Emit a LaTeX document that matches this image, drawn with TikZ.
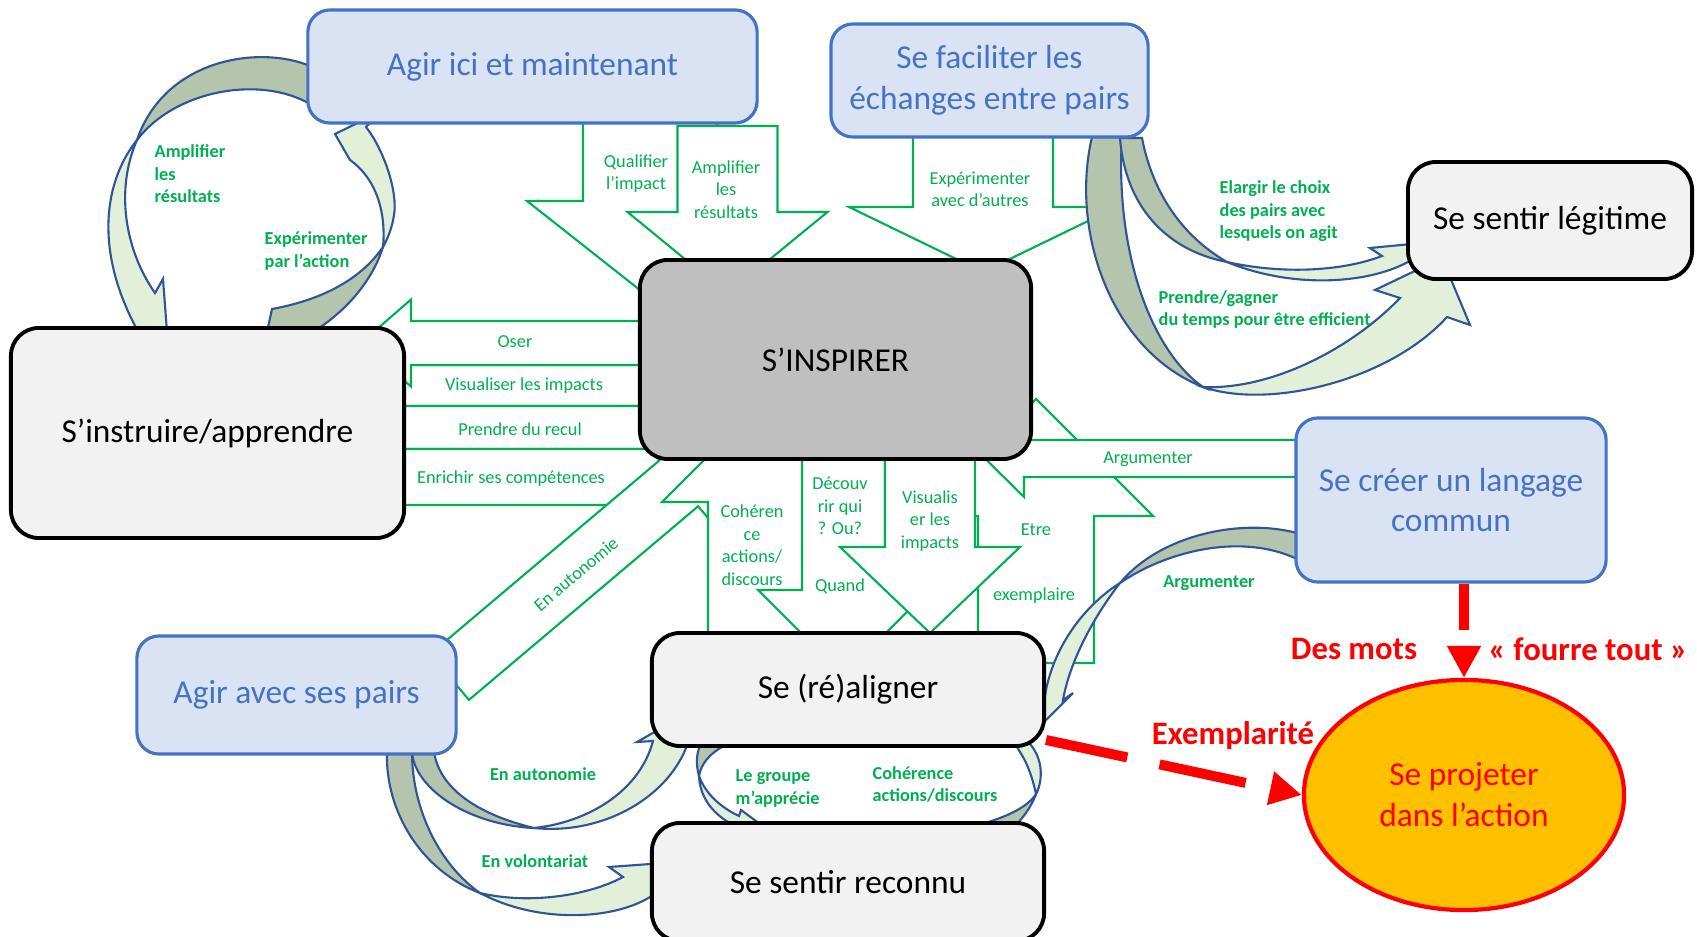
\documentclass[tikz,border=0pt]{standalone}
\usepackage{fontspec}
\setmainfont{Carlito}
\usepackage{tikz}
\usepackage{xcolor}
\usetikzlibrary{arrows.meta,shapes.geometric}
\definecolor{lightblue}{HTML}{DAE3F3}
\definecolor{boxblue}{HTML}{4472C4}
\definecolor{boxgray}{HTML}{F2F2F2}
\definecolor{inspiregray}{HTML}{BFBFBF}
\definecolor{arrowgreen}{HTML}{00B050}
\definecolor{ribbondark}{HTML}{B5C4AD}
\definecolor{ribbonlight}{HTML}{E2F0D9}
\definecolor{ribbonline}{HTML}{2F5597}
\definecolor{projorange}{HTML}{FFC000}
\newcommand{\boxfont}{\fontsize{9.5}{11.6}\selectfont}
\newcommand{\lblfont}{\fontsize{5.2}{6.4}\selectfont}
\newcommand{\redfont}{\fontsize{9.3}{11}\selectfont\bfseries}
% block arrow, vertical: x, y tail, half shaft, y head base, half head, y tip
\newcommand{\vertarrow}[6]{
    \filldraw[greenarrow] (#1-#3,#2) -- (#1-#3,#4) -- (#1-#5,#4) -- (#1,#6) -- (#1+#5,#4) -- (#1+#3,#4) -- (#1+#3,#2) -- cycle;
}
% block arrow, horizontal: y, x tail, half shaft, x head base, half head, x tip
\newcommand{\horizarrow}[6]{
    \filldraw[greenarrow] (#2,#1-#3) -- (#4,#1-#3) -- (#4,#1-#5) -- (#6,#1) -- (#4,#1+#5) -- (#4,#1+#3) -- (#2,#1+#3) -- cycle;
}
\tikzset{
    blackbox/.style={draw=black, line width=1.1pt, fill=boxgray, rounded corners=2.8mm, align=center, font=\boxfont, inner sep=0pt},
    bluebox/.style={draw=boxblue, line width=0.9pt, fill=lightblue, text=boxblue, rounded corners=2.2mm, align=center, font=\boxfont, inner sep=0pt},
    greenarrow/.style={draw=arrowgreen, fill=white, line width=0.6pt},
    ribbonback/.style={draw=ribbonline, fill=ribbondark, line width=0.6pt},
    ribbonfront/.style={draw=ribbonline, fill=ribbonlight, line width=0.6pt},
    lbl/.style={text=arrowgreen, font=\lblfont, inner sep=0pt, align=center},
    blbl/.style={text=arrowgreen, font=\lblfont\bfseries, inner sep=0pt, align=left, anchor=west},
    redtext/.style={text=red, font=\redfont, inner sep=0pt},
    reddash/.style={draw=red, line width=1mm, -{Triangle[length=3.2mm,width=3.2mm]}},
}

\begin{document}
\begin{tikzpicture}[x=0.01cm,y=-0.01cm]
\useasboundingbox (0,0) rectangle (1697,937);

% green block arrows
\foreach \cx/\ty/\sh/\hb/\hh/\tp in {
    650/100/67/201/123/298,
    727.5/126/50/212/100/294,
    983/120/70/207/134/272
}{
    \vertarrow{\cx}{\ty}{\sh}{\hb}{\hh}{\tp}
}
\foreach \cy/\tx/\sh/\hb/\hh/\tp in {
    385.5/700/20.5/411/43/361,
    343/700/22/411/43.5/361,
    427.5/700/21.5/395/40/355,
    477/680/28/395/45/350
}{
    \horizarrow{\cy}{\tx}{\sh}{\hb}{\hh}{\tp}
}
\begin{scope}[shift={(449.6,677)},rotate=40.2]
    \horizarrow{0}{0}{30}{300}{55}{360}
\end{scope}
\foreach \cx/\ty/\sh/\hb/\hh/\tp in {
    759/650/51/502/97/405,
    843.5/440/41.5/590/85.5/675,
    1036/663/58/516/117/399,
    930/440/45/547/90/633
}{
    \vertarrow{\cx}{\ty}{\sh}{\hb}{\hh}{\tp}
}
\horizarrow{458.5}{1310}{18.5}{1024}{38.5}{985}

% curved arrows
\filldraw[ribbonback] (310,66) .. controls (260,45) and (165,58) .. (137,140) .. controls (175,90) and (260,75) .. (310,104) -- cycle;
\filldraw[ribbonfront] (137,140) .. controls (105,180) and (92,250) .. (140,335) -- (168,345) -- (163,279) -- (155,293) .. controls (125,250) and (115,190) .. (137,140) -- cycle;
\filldraw[ribbonback] (267,332) -- (272,309) .. controls (305,303) and (355,288) .. (383,247) .. controls (372,282) and (345,312) .. (313,332) -- cycle;
\filldraw[ribbonfront] (383,247) .. controls (386,215) and (378,180) .. (350,160) -- (335,134) -- (380,112) -- (366,127) .. controls (384,150) and (398,192) .. (394,215) .. controls (392,228) and (388,238) .. (383,247) -- cycle;
\filldraw[ribbonback] (1092,137) .. controls (1070,230) and (1110,350) .. (1203,387) .. controls (1150,350) and (1115,250) .. (1122,137) -- cycle;
\filldraw[ribbonfront] (1203,387) .. controls (1270,410) and (1390,380) .. (1447,317) -- (1470,325) -- (1442,258) -- (1375,290) -- (1400,298) .. controls (1350,350) and (1270,390) .. (1203,387) -- cycle;
\filldraw[ribbonback] (1120,138) .. controls (1125,205) and (1165,250) .. (1227,262) .. controls (1180,235) and (1152,190) .. (1142,138) -- cycle;
\filldraw[ribbonfront] (1227,262) .. controls (1290,288) and (1365,285) .. (1408,262) -- (1422,243) -- (1370,248) -- (1382,256) .. controls (1340,272) and (1280,274) .. (1227,262) -- cycle;
\filldraw[ribbonback] (1297,533) .. controls (1240,518) and (1160,535) .. (1120,583) .. controls (1165,552) and (1240,532) .. (1297,559) -- cycle;
\filldraw[ribbonfront] (1120,583) .. controls (1085,605) and (1055,645) .. (1046,690) -- (1040,726) -- (1073,693) -- (1063,700) .. controls (1070,660) and (1095,615) .. (1120,583) -- cycle;
\filldraw[ribbonback] (387,752) .. controls (385,810) and (420,870) .. (480,893) .. controls (440,865) and (412,810) .. (412,752) -- cycle;
\filldraw[ribbonfront] (480,893) .. controls (540,925) and (620,920) .. (656,893) -- (678,862) -- (609,867) -- (623,877) .. controls (590,895) and (530,905) .. (480,893) -- cycle;
\filldraw[ribbonback] (412,752) .. controls (415,790) and (470,825) .. (534,828) .. controls (480,815) and (440,790) .. (434,752) -- cycle;
\filldraw[ribbonfront] (534,828) .. controls (600,835) and (665,800) .. (686,748) -- (672,722) -- (637,742) -- (653,741) .. controls (640,790) and (590,822) .. (534,828) -- cycle;
\filldraw[ribbonback] (700,746) .. controls (696,755) and (696,765) .. (699,776) .. controls (701,764) and (710,753) .. (724,746) -- cycle;
\filldraw[ribbonfront] (699,776) .. controls (700,800) and (716,818) .. (740,828) -- (760,824) -- (741,810) -- (739,816) .. controls (722,808) and (706,795) .. (699,776) -- cycle;
\filldraw[ribbonback] (985,823) .. controls (1005,817) and (1027,808) .. (1036,794) .. controls (1031,808) and (1022,818) .. (1018,823) -- cycle;
\filldraw[ribbonfront] (1036,794) .. controls (1044,778) and (1042,758) .. (1030,744) -- (1014,742) -- (1020,752) .. controls (1028,764) and (1033,780) .. (1036,794) -- cycle;

% boxes
\node[bluebox, minimum width=4.49cm, minimum height=1.13cm] (agirici) at (532.5,66.5) {Agir ici et maintenant};
\node[bluebox, minimum width=3.17cm, minimum height=1.13cm] (faciliter) at (989.5,80.5) {Se faciliter les\\échanges entre pairs};
\node[blackbox, minimum width=2.84cm, minimum height=1.17cm] (legitime) at (1550,220.5) {Se sentir légitime};
\node[blackbox, fill=inspiregray, minimum width=3.91cm, minimum height=1.99cm] (inspirer) at (835.5,359.5) {S’INSPIRER};
\node[blackbox, minimum width=3.93cm, minimum height=2.10cm] (instruire) at (207.5,433) {S’instruire/apprendre};
\node[bluebox, minimum width=3.10cm, minimum height=1.64cm] (langage) at (1451,500) {Se créer un langage\\commun};
\node[bluebox, minimum width=3.19cm, minimum height=1.18cm] (agiravec) at (296.5,695) {Agir avec ses pairs};
\node[blackbox, minimum width=3.92cm, minimum height=1.13cm] (realigner) at (848,689.5) {Se (ré)aligner};
\node[blackbox, minimum width=3.92cm, minimum height=1.18cm] (reconnu) at (848,882) {Se sentir reconnu};
\node[ellipse, draw=red, line width=1.2pt, fill=projorange, text=red, minimum width=3.2cm, minimum height=2.3cm, inner sep=0pt, align=center, font=\boxfont] (projeter) at (1464,795) {Se projeter\\dans l’action};

% labels on the block arrows
\node[lbl] (qualifier) at (636,173.5) {Qualifier\\l’impact};
\node[lbl] (amplifier) at (726,189.5) {Amplifier\\les\\résultats};
\node[lbl] (experimenter) at (980,189.5) {Expérimenter\\avec d’autres};
\node[lbl] (oser) at (515,342) {Oser};
\node[lbl] (visualiser) at (524,386) {Visualiser les impacts};
\node[lbl] (recul) at (520,429) {Prendre du recul};
\node[lbl] (enrichir) at (511,479) {Enrichir ses compétences};
\node[lbl, rotate=40.2] (autonomie) at (576,574) {En autonomie};
\node[lbl] (coherence) at (752,545) {Cohéren\\ce\\actions/\\discours};
\node[lbl] (decouvrir) at (840,506) {Découv\\rir qui\\? Ou?};
\node[lbl] (quand) at (840,586) {Quand};
\node[lbl] (visualis) at (930,521) {Visualis\\er les\\impacts};
\node[lbl] (etre) at (1036,530) {Etre};
\node[lbl] (exemplaire) at (1034,596) {exemplaire};
\node[lbl] (argumenter) at (1148,459) {Argumenter};

% labels on the curved arrows
\node[blbl] (amplifierloop) at (154,174) {Amplifier\\les\\résultats};
\node[blbl] (experimenterloop) at (264,251) {Expérimenter\\par l’action};
\node[blbl] (elargir) at (1219,211.5) {Elargir le choix\\des pairs avec\\lesquels on agit};
\node[blbl] (prendre) at (1158,309.5) {Prendre/gagner\\du temps pour être efficient};
\node[blbl, anchor=center] (argumenterloop) at (1209,583) {Argumenter};
\node[blbl, anchor=center] (autonomieloop) at (543,774) {En autonomie};
\node[blbl, anchor=center] (volontariat) at (535,861) {En volontariat};
\node[blbl] (groupe) at (735,788.5) {Le groupe\\m’apprécie};
\node[blbl] (coherenceloop) at (872,784.5) {Cohérence\\actions/discours};

% red
\node[redtext] (desmots) at (1354,649) {Des mots};
\node[redtext] (fourretout) at (1588,649) {« fourre tout »};
\node[redtext] (exemplarite) at (1233,736) {Exemplarité};
\draw[reddash, dash pattern=on 4.6mm off 1.7mm] (projeter.north |- langage.south) -- (projeter.north);
\draw[reddash, dash pattern=on 8.3mm off 3.3mm on 8.8mm off 3mm] ([yshift=0.08cm]realigner.south east) -- (projeter.west);
\end{tikzpicture}
\end{document}
